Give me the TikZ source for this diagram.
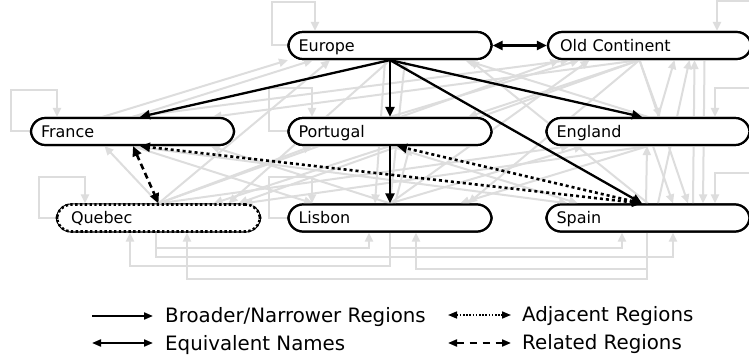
\documentclass[tikz,border=0pt]{standalone}
\usepackage{fontspec}
\setmainfont{DejaVu Sans}
\usetikzlibrary{arrows.meta}
\begin{document}
\begin{tikzpicture}[x=1pt,y=-1pt,
  region/.style={draw, line width=2.2pt, fill=white, rounded corners=14.5pt,
    minimum width=203pt, minimum height=27pt, inner xsep=10pt, inner ysep=0pt,
    text width=183pt, align=left, text height=11.6pt, text depth=0pt,
    font=\fontsize{16}{18}\selectfont},
  ghost/.style={draw=gray!27, line width=2pt, -{Triangle[length=9pt,width=8pt]}},
  narrower/.style={line width=2.3pt, -{Triangle[length=10pt,width=9pt]}},
  equiv/.style={line width=2.3pt, {Triangle[length=10pt,width=9pt]}-{Triangle[length=10pt,width=9pt]}},
  adjacent/.style={line width=2.6pt, dash pattern=on 3pt off 3pt, {Triangle[length=10pt,width=9pt]}-{Triangle[length=10pt,width=9pt]}},
  related/.style={line width=2.6pt, dash pattern=on 6pt off 4pt, {Triangle[length=10pt,width=9pt]}-{Triangle[length=10pt,width=9pt]}},
  legtext/.style={anchor=base west, inner sep=0pt, font=\fontsize{19.8}{22}\selectfont},
  legarrow/.style={line width=2pt, -{Triangle[length=9pt,width=7pt]}},
  legequiv/.style={line width=2pt, {Triangle[length=9pt,width=7pt]}-{Triangle[length=9pt,width=7pt]}},
  legadj/.style={line width=1.6pt, dash pattern=on 1.6pt off 1.6pt, {Triangle[length=9pt,width=7pt]}-{Triangle[length=9pt,width=7pt]}},
  legrel/.style={line width=2pt, dash pattern=on 7pt off 6pt, {Triangle[length=9pt,width=7pt]}-{Triangle[length=9pt,width=7pt]}}
]
\clip (0,0) rectangle (749,363);
\useasboundingbox (0,0) rectangle (749,363);
\fill[white] (0,0) rectangle (749,363);

% ---- node placement (drawn later on top) -- coordinates for the ghost edges
\path
  node[region] (europe)   at (390,45.5)   {\phantom{x}}
  node[region] (oc)       at (649.5,45.5) {\phantom{x}}
  node[region] (france)   at (132.5,131.5){\phantom{x}}
  node[region] (portugal) at (390,131.5)  {\phantom{x}}
  node[region] (england)  at (648,131.5)  {\phantom{x}}
  node[region] (quebec)   at (158.5,218)  {\phantom{x}}
  node[region] (lisbon)   at (390,218)    {\phantom{x}}
  node[region] (spain)    at (648,218)    {\phantom{x}};

% ---- ghost edges: self loops
\draw[ghost] (europe.west) -- ++(-15,0) -- ++(0,-43) -| ([xshift=-75pt]europe.north);
\draw[ghost] (france.west) -- ++(-19,0) -- ++(0,-41) -| ([xshift=-75.5pt]france.north);
\draw[ghost] (quebec.west) -- ++(-17,0) -- ++(0,-41) -| ([xshift=-73.5pt]quebec.north);
\draw[ghost] (portugal.west) -- ++(-18,0) -- ++(0,-43) -| ([xshift=-78pt]portugal.north);
\draw[ghost] (lisbon.west) -- ++(-18,0) -- ++(0,-41) -| ([xshift=-78pt]lisbon.north);
\draw[ghost] (oc.east) -- ++(15,0) -- ++(0,-44) -| ([xshift=67.5pt]oc.north);
\draw[ghost] (england.east) -- ++(15,0) -- ++(0,-43) -| ([xshift=67pt]england.north);
\draw[ghost] (spain.east) -- ++(15,0) -- ++(0,-45) -| ([xshift=67pt]spain.north);

% ---- ghost edges: bottom routes
\draw[ghost] (lisbon.south) -- ++(0,33) -| ([xshift=-28.5pt]quebec.south);
\draw[ghost] ([xshift=-2.5pt]quebec.south) -- ++(0,15) -| ([xshift=-21pt]lisbon.south);
\draw[ghost] ([xshift=-2.5pt]quebec.south) -- ++(0,24) -| ([xshift=25pt]spain.south);
\draw[ghost] (lisbon.south) -- ++(0,15) -| ([xshift=-26pt]spain.south);
\draw[ghost] ([xshift=-1pt]spain.south) -- ++(0,36) -| ([xshift=26pt]lisbon.south);
\draw[ghost] ([xshift=-1pt]spain.south) -- ++(0,46) -| ([xshift=28.5pt]quebec.south);

% ---- ghost edges: straight, downward
\draw[ghost] (europe.south) -- ([xshift=70pt]quebec.north);
\draw[ghost] ([xshift=-5pt]europe.south) -- ([xshift=-15pt]lisbon.north);
\draw[ghost] ([xshift=-10pt]oc.south) -- ([xshift=80pt]france.north);
\draw[ghost] ([xshift=-10pt]oc.south) -- ([xshift=78pt]portugal.north);
\draw[ghost] ([xshift=-10pt]oc.south) -- ([xshift=12pt]england.north);
\draw[ghost] ([xshift=-10pt]oc.south) -- ([xshift=80pt]quebec.north);
\draw[ghost] ([xshift=-10pt]oc.south) -- ([xshift=78pt]lisbon.north);
\draw[ghost] ([xshift=-10pt]oc.south) -- ([xshift=40pt]spain.north);
\draw[ghost] ([xshift=55pt]oc.south) -- ([xshift=55pt]spain.north);
\draw[ghost] (france.south) -- ([xshift=-77pt]lisbon.north);
\draw[ghost] (france.south) -- ([xshift=-80pt]spain.north);
\draw[ghost] (portugal.south) -- ([xshift=55pt]quebec.north);
\draw[ghost] (portugal.south) -- ([xshift=-70pt]spain.north);
\draw[ghost] (england.south) -- ([xshift=85pt]quebec.north);
\draw[ghost] (england.south) -- ([xshift=70pt]lisbon.north);
\draw[ghost] ([xshift=5pt]england.south) -- ([xshift=25pt]spain.north);

% ---- ghost edges: straight, upward
\draw[ghost] (france.north) -- ([xshift=-77pt]europe.south);
\draw[ghost] ([xshift=-30pt]france.north) -- ([xshift=-102pt]europe.south);
\draw[ghost] (france.north) -- ([xshift=-80pt]oc.south);
\draw[ghost] (portugal.north) -- ([xshift=-70pt]oc.south);
\draw[ghost] (england.north) -- ([xshift=75pt]europe.south);
\draw[ghost] ([xshift=10pt]england.north) -- ([xshift=25pt]oc.south);
\draw[ghost] (quebec.north) -- ([xshift=-60pt]europe.south);
\draw[ghost] (quebec.north) -- ([xshift=-90pt]oc.south);
\draw[ghost] (lisbon.north) -- ([xshift=15pt]europe.south);
\draw[ghost] (lisbon.north) -- ([xshift=-60pt]oc.south);
\draw[ghost] (spain.north) -- ([xshift=80pt]europe.south);
\draw[ghost] ([xshift=10pt]spain.north) -- ([xshift=40pt]oc.south);
\draw[ghost] ([xshift=45pt]spain.north) -- ([xshift=45pt]oc.south);
\draw[ghost] (quebec.north) -- ([xshift=-28pt]france.south);
\draw[ghost] (quebec.north) -- ([xshift=-78pt]portugal.south);
\draw[ghost] (quebec.north) -- ([xshift=-78pt]england.south);
\draw[ghost] (lisbon.north) -- ([xshift=78pt]france.south);
\draw[ghost] ([xshift=5pt]lisbon.north) -- ([xshift=20pt]portugal.south);
\draw[ghost] (lisbon.north) -- ([xshift=-65pt]england.south);
\draw[ghost] ([xshift=-2pt]spain.north) -- ([xshift=-1pt]england.south);

% ---- nodes on top
\node[region] at (europe)   {Europe};
\node[region] at (oc)       {\hspace*{2pt}Old Continent};
\node[region] at (france)   {France};
\node[region] at (portugal) {Portugal};
\node[region] at (england)  {England};
\node[region, line width=2.6pt, dash pattern=on 2.4pt off 2.4pt] at (quebec) {\hspace*{4pt}Quebec};
\node[region] at (lisbon)   {Lisbon};
\node[region] at (spain)    {Spain};

% ---- black edges
\draw[narrower] (europe.south) -- ([xshift=7.5pt]france.north);
\draw[narrower] (europe.south) -- (portugal.north);
\draw[narrower] (europe.south) -- ([xshift=-6pt]england.north);
\draw[narrower] (europe.south) -- ([xshift=-6pt]spain.north);
\draw[narrower] (portugal.south) -- (lisbon.north);
\draw[equiv] (europe.east) -- (oc.west);
\draw[adjacent] ([xshift=-6pt]spain.north) -- ([xshift=7.5pt]france.south);
\draw[adjacent] ([xshift=-6pt]spain.north) -- ([xshift=7pt]portugal.south);
\draw[related] ([xshift=0.5pt]france.south) -- (quebec.north);

% ---- legend
\coordinate (la1) at (92,316);  \coordinate (lb1) at (153,316);
\coordinate (la2) at (92,343);  \coordinate (lb2) at (153,343);
\coordinate (la3) at (448,315); \coordinate (lb3) at (511,315);
\coordinate (la4) at (448,343); \coordinate (lb4) at (511,343);
\draw[legarrow] (la1) -- (lb1);
\draw[legequiv] (la2) -- (lb2);
\draw[legadj] (la3) -- (lb3);
\draw[legrel] (la4) -- (lb4);
\node[legtext] (t1) at (165,322) {Broader/Narrower Regions};
\node[legtext] (t2) at (165,350) {Equivalent Names};
\node[legtext] (t3) at (522,321) {Adjacent Regions};
\node[legtext] (t4) at (522,349) {Related Regions};
\end{tikzpicture}
\end{document}
